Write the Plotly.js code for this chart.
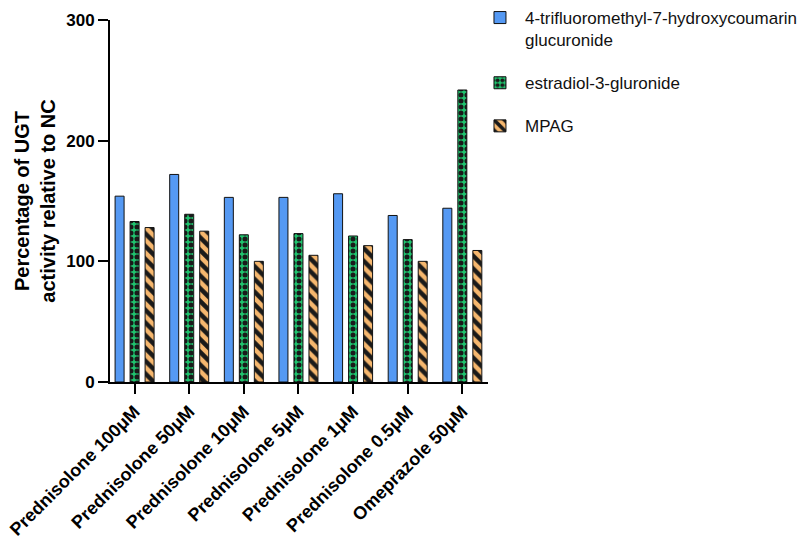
<!DOCTYPE html>
<html>
<head>
<meta charset="utf-8">
<script src="https://cdn.plot.ly/plotly-3.0.1.min.js"></script>
<style>html,body{margin:0;padding:0;background:#fff;}</style>
</head>
<body>
<div id="chart" style="width:809px;height:542px;"></div>
<script>
const categories = ["Prednisolone 100μM", "Prednisolone 50μM", "Prednisolone 10μM", "Prednisolone 5μM", "Prednisolone 1μM", "Prednisolone 0.5μM", "Omeprazole 50μM"];
const seriesNames = ["4-trifluoromethyl-7-hydroxycoumarin<br>glucuronide", "estradiol-3-gluronide", "MPAG"];
const hfcGlucuronide = [154, 172, 153, 153, 156, 138, 144];
const estradiolGlucuronide = [133, 139, 122, 123, 121, 118, 242];
const mpag = [128, 125, 100, 105, 113, 100, 109];
const yTickValues = [0, 100, 200, 300];

const FONT = "Arial, 'Liberation Sans', Helvetica, sans-serif";

const traces = [
  {
    type: "bar", x: categories, y: hfcGlucuronide, name: seriesNames[0], legendgroup: "a",
    marker: { color: "#5599F3", line: { color: "#111", width: 1 } }
  },
  {
    type: "bar", x: categories, y: estradiolGlucuronide, name: seriesNames[1], legendgroup: "b",
    marker: { color: "#1FC46E", line: { color: "#111", width: 1 },
      pattern: { shape: ".", fgcolor: "#1a1a1a", bgcolor: "#1FC46E", size: 6, solidity: 0.55 } }
  },
  {
    type: "bar", x: categories, y: mpag, name: seriesNames[2], legendgroup: "c",
    marker: { color: "#F6B76E", line: { color: "#111", width: 1 },
      pattern: { shape: "\\", fgcolor: "#1a1a1a", bgcolor: "#F6B76E", size: 9, solidity: 0.5 } }
  }
];

// paper area: x 110..808, y 0..382 ; plot area set by domains
const layout = {
  width: 809, height: 542,
  margin: { l: 110, r: 1, t: 0, b: 160, autoexpand: false },
  paper_bgcolor: "#fff", plot_bgcolor: "#fff",
  font: { family: FONT, color: "#000" },
  barmode: "group", bargap: 0.176, bargroupgap: 0.4,
  showlegend: true,
  legend: {
    x: 0.5229, xanchor: "left", y: 1.0, yanchor: "top",
    font: { family: FONT, size: 17, color: "#111" },
    tracegroupgap: 18, traceorder: "grouped", valign: "top",
    itemwidth: 40,
    bgcolor: "rgba(0,0,0,0)"
  },
  xaxis: {
    type: "category", range: [-0.45, 6.47], domain: [0, 0.54155], automargin: false,
    showline: true, linecolor: "#000", linewidth: 2,
    ticks: "outside", ticklen: 10, tickwidth: 2, tickcolor: "#000",
    tickangle: -45, tickfont: { family: FONT, size: 18, weight: "bold", color: "#000" },
    showgrid: false, zeroline: false, fixedrange: true
  },
  yaxis: {
    range: [0, 300], domain: [0, 0.94764], automargin: false,
    tickvals: yTickValues, ticktext: yTickValues.map(String),
    showline: true, linecolor: "#000", linewidth: 2,
    ticks: "outside", ticklen: 10, tickwidth: 2, tickcolor: "#000",
    tickfont: { family: FONT, size: 17, weight: "bold", color: "#000" },
    showgrid: false, zeroline: false, fixedrange: true,
    title: { text: "Percentage of UGT<br>activity relative to NC", standoff: 5,
      font: { family: FONT, size: 20, weight: "bold", color: "#000" } }
  }
};

Plotly.newPlot("chart", traces, layout, { displayModeBar: false, staticPlot: true });
</script>
</body>
</html>
